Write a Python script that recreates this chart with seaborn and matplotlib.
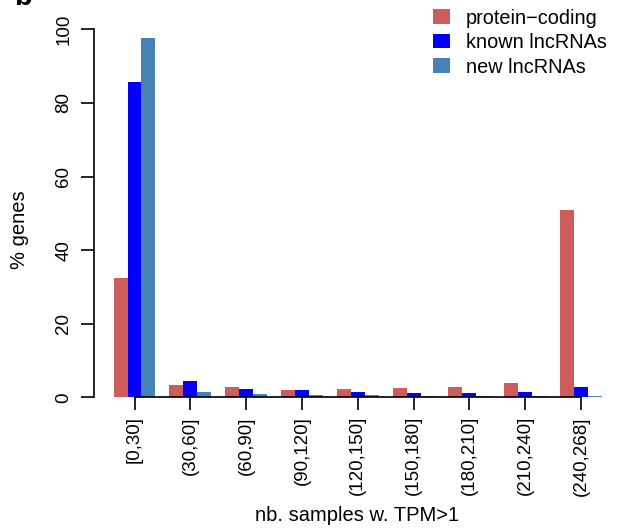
import numpy as np
import pandas as pd
import matplotlib
matplotlib.use("Agg")
import matplotlib.pyplot as plt
import seaborn as sns
from matplotlib.patches import Patch

categories = ["[0,30]", "(30,60]", "(60,90]", "(90,120]", "(120,150]",
              "(150,180]", "(180,210]", "(210,240]", "(240,268]"]
series = ["protein\u2212coding", "known lncRNAs", "new lncRNAs"]
protein_coding = [32.3, 3.3, 2.8, 2.1, 2.2, 2.5, 2.8, 3.8, 50.9]
known_lncrnas = [85.8, 4.3, 2.3, 1.9, 1.4, 1.3, 1.3, 1.4, 2.8]
new_lncrnas = [97.6, 1.4, 0.9, 0.6, 0.5, 0.4, 0.4, 0.3, 0.4]
colors = ["#CD5C5C", "#0000FF", "#4682B4"]
yticks = [0, 20, 40, 60, 80, 100]

rows = []
for name, vals in zip(series, [protein_coding, known_lncrnas, new_lncrnas]):
    for c, v in zip(categories, vals):
        rows.append({"interval": c, "pct": v, "type": name})
df = pd.DataFrame(rows)

sns.set_style("ticks")
plt.rcParams["font.family"] = ["Liberation Sans", "DejaVu Sans"]
plt.rcParams["text.color"] = "black"
plt.rcParams["axes.labelcolor"] = "black"
plt.rcParams["xtick.color"] = "black"
plt.rcParams["ytick.color"] = "black"

W, H = 621, 529
fig = plt.figure(figsize=(W / 100, H / 100), dpi=100)
ax = fig.add_axes([94 / W, (H - 397.3) / H, 526 / W, 397.3 / H])

sns.barplot(data=df, x="interval", y="pct", hue="type", order=categories,
            hue_order=series, palette=colors, width=0.75, linewidth=0,
            saturation=1, errorbar=None, legend=False, ax=ax)

ax.set_xlim(-0.726, 8.70)
ax.set_ylim(0, 397.3 / 3.68)
ax.set_xticks(range(len(categories)))
ax.set_xticklabels(categories, rotation=90, fontsize=13.5, color="black")
ax.set_yticks(yticks)
ax.set_yticklabels([str(t) for t in yticks], rotation=90, va="center",
                   fontsize=13.5, color="black")
ax.tick_params(axis="both", length=9.5, width=1.2, color="black")
ax.tick_params(axis="x", pad=4)
ax.tick_params(axis="y", pad=6)

for s in ["top", "right"]:
    ax.spines[s].set_visible(False)
ax.spines["left"].set_bounds(0, 100)
ax.spines["bottom"].set_bounds(0, 8)
for s in ["left", "bottom"]:
    ax.spines[s].set_linewidth(1.2)
    ax.spines[s].set_color("black")
    ax.spines[s].set_zorder(5)

ax.set_xlabel("nb. samples w. TPM>1", fontsize=14.5, color="black")
ax.set_ylabel("% genes", fontsize=14.5, color="black")
ax.xaxis.set_label_coords(0.5, (397.3 - 506) / 397.3)
ax.yaxis.set_label_coords((29 - 94) / 526, (397.3 - 230) / 397.3)

handles = [Patch(facecolor=c, edgecolor="none") for c in colors]
fig.legend(handles, series, loc="upper left",
           bbox_to_anchor=(433 / W, 1 - 8.5 / H), bbox_transform=fig.transFigure,
           frameon=False, fontsize=14.3, handlelength=0.85, handleheight=0.75,
           handletextpad=0.8, labelspacing=0.28, borderpad=0, borderaxespad=0)

fig.text(14 / W, 1 - 5 / H, "b", fontsize=21, fontweight="bold",
         ha="left", va="baseline", color="black")

fig.savefig("out.png", dpi=100)
